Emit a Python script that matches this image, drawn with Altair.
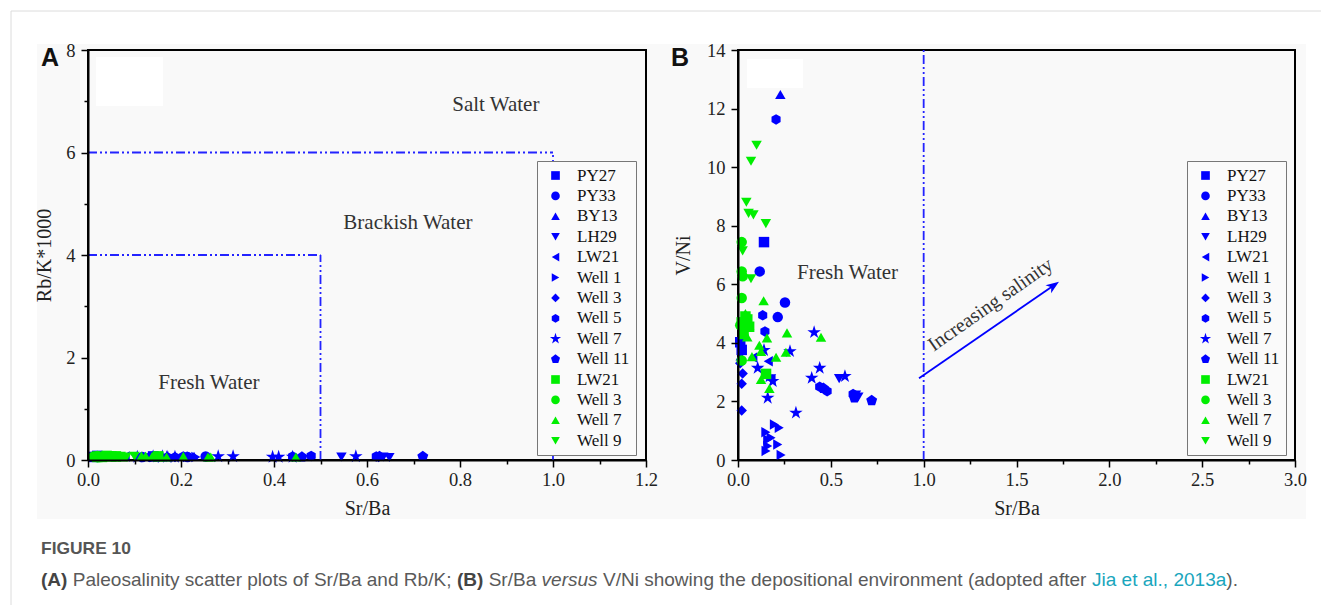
import altair as alt
import pandas as pd

BLUE = "#0000ff"
GREEN = "#00ee00"
LINE_BLUE = "#2323ff"
SERIF = "Liberation Serif"
SANS = "Liberation Sans"

STAR = ("M0,-1.35L0.303,-0.417L1.284,-0.417L0.490,0.159L0.794,1.092L0,0.516L-0.794,1.092"
        "L-0.490,0.159L-1.284,-0.417L-0.303,-0.417Z")
PENTAGON = "M0,-1.1L1.046,-0.34L0.647,0.89L-0.647,0.89L-1.046,-0.34Z"
HEXAGON = "M0,-1L0.866,-0.5L0.866,0.5L0,1L-0.866,0.5L-0.866,-0.5Z"
ARROW_HEAD = "M1,0L-1,-0.75L-0.45,0L-1,0.75Z"

# series: key, colour, symbol
series_keys = ["b:PY27", "b:PY33", "b:BY13", "b:LH29", "b:LW21", "b:Well 1", "b:Well 3",
               "b:Well 5", "b:Well 7", "b:Well 11", "g:LW21", "g:Well 3", "g:Well 7", "g:Well 9"]
series_colors = [BLUE] * 10 + [GREEN] * 4
series_shapes = ["square", "circle", "triangle-up", "triangle-down", "triangle-left", "triangle-right",
                 "diamond", HEXAGON, STAR, PENTAGON, "square", "circle", "triangle-up", "triangle-down"]

# Sr/Ba per sample
sr_ba = {
    "b:PY27": [0.140, 0.012, 0.020],
    "b:PY33": [0.117, 0.253, 0.214],
    "b:BY13": [0.228, 0.015],
    "b:LH29": [0.545, 0.635, 0.648],
    "b:LW21": [0.163, 0.178, 0.080],
    "b:Well 1": [0.196, 0.222, 0.214, 0.160, 0.160, 0.151, 0.232, 0.178, 0.150],
    "b:Well 3": [0.020, 0.020, 0.025, 0.012, 0.625],
    "b:Well 5": [0.205, 0.133, 0.145, 0.480, 0.440, 0.620],
    "b:Well 7": [0.410, 0.280, 0.106, 0.160, 0.187, 0.312, 0.397, 0.440, 0.576, 0.170, 0.140],
    "b:Well 11": [0.720, 0.460, 0.627],
    "g:LW21": [0.151, 0.020, 0.040, 0.060, 0.030, 0.050],
    "g:Well 3": [0.020, 0.020, 0.025, 0.020, 0.020, 0.012],
    "g:Well 7": [0.138, 0.264, 0.156, 0.447, 0.115, 0.124, 0.258, 0.205, 0.075, 0.124, 0.169,
                 0.040, 0.050, 0.030, 0.060],
    "g:Well 9": [0.100, 0.070, 0.045, 0.057, 0.083, 0.150, 0.025, 0.070],
}

# V/Ni per sample
v_ni = {
    "b:PY27": [7.44, 4.02, 3.76],
    "b:PY33": [6.44, 5.38, 4.88],
    "b:BY13": [12.48, 3.55],
    "b:LH29": [2.78, 2.22, 2.15],
    "b:LW21": [3.37, 2.75, 3.50],
    "b:Well 1": [1.21, 1.10, 0.53, 0.70, 0.48, 0.31, 0.17, 0.76, 0.95],
    "b:Well 3": [1.69, 2.60, 2.95, 3.30, 2.18],
    "b:Well 5": [11.63, 4.94, 4.39, 2.35, 2.50, 2.25],
    "b:Well 7": [4.36, 3.71, 3.14, 2.12, 2.69, 1.61, 2.80, 3.14, 2.86, 2.85, 3.75],
    "b:Well 11": [2.03, 2.45, 2.12],
    "g:LW21": [2.94, 4.70, 4.90, 4.55, 4.30, 4.80],
    "g:Well 3": [7.44, 6.44, 6.27, 5.53, 3.40, 4.60],
    "g:Well 7": [5.44, 4.34, 4.17, 4.19, 3.92, 3.71, 3.68, 3.51, 3.53, 2.75, 2.44,
                 5.00, 4.20, 4.40, 4.60],
    "g:Well 9": [10.75, 10.20, 8.80, 8.42, 8.37, 8.07, 7.14, 6.19],
}

# Rb/K*1000 per sample
rb_k = {
    "b:PY27": [0.07, 0.06, 0.08],
    "b:PY33": [0.06, 0.07, 0.06],
    "b:BY13": [0.07, 0.06],
    "b:LH29": [0.06, 0.06, 0.05],
    "b:LW21": [0.07, 0.06, 0.07],
    "b:Well 1": [0.06, 0.07, 0.06, 0.05, 0.07, 0.06, 0.06, 0.07, 0.06],
    "b:Well 3": [0.06, 0.07, 0.06, 0.07, 0.06],
    "b:Well 5": [0.07, 0.06, 0.07, 0.08, 0.07, 0.07],
    "b:Well 7": [0.06, 0.07, 0.06, 0.07, 0.06, 0.07, 0.06, 0.06, 0.07, 0.06, 0.07],
    "b:Well 11": [0.07, 0.06, 0.07],
    "g:LW21": [0.07, 0.06, 0.08, 0.07, 0.06, 0.07],
    "g:Well 3": [0.06, 0.07, 0.06, 0.08, 0.06, 0.07],
    "g:Well 7": [0.07, 0.06, 0.07, 0.06, 0.08, 0.07, 0.06, 0.07, 0.06, 0.07, 0.06,
                 0.08, 0.07, 0.06, 0.07],
    "g:Well 9": [0.07, 0.06, 0.08, 0.07, 0.06, 0.07, 0.06, 0.07],
}

# salinity boundaries (x0, y0, x1, y1)
bounds_a = [(0.0, 6.0, 1.0, 6.0), (1.0, 0.0, 1.0, 6.0), (0.0, 4.0, 0.5, 4.0), (0.5, 0.0, 0.5, 4.0)]
bounds_b = [(1.0, 0.0, 1.0, 14.0)]
arrow_b = (0.975, 2.79, 1.70, 5.96)

labels_a = [("Salt Water", 0.877, 6.93), ("Brackish Water", 0.688, 4.62), ("Fresh Water", 0.26, 1.50)]
labels_b = [("Fresh Water", 0.59, 6.37)]

ticks_ax = [round(0.1 * i, 1) for i in range(13)]
ticks_ay = list(range(9))
ticks_bx = [0.25 * i for i in range(13)]
ticks_by = list(range(15))

# caption runs: text, style (runs are separated by one space)
caption_title = "FIGURE 10"
caption_parts = [
    ("(A)", "bold", True),
    ("Paleosalinity scatter plots of Sr/Ba and Rb/K;", "normal", True),
    ("(B)", "bold", True),
    ("Sr/Ba", "normal", True),
    ("versus", "italic", True),
    ("V/Ni showing the depositional environment (adopted after", "normal", True),
    ("Jia et al., 2013a", "link", False),
    (").", "normal", False),
]

rows = []
for k in series_keys:
    for s, v, r in zip(sr_ba[k], v_ni[k], rb_k[k]):
        rows.append({"key": k, "sr": s, "vni": v, "rbk": r})
df = pd.DataFrame(rows)

W_A, W_B, H = 558, 557, 410
ONE = alt.Data(values=[{}])

# Arial/Liberation Sans advance widths (1/1000 em) used to lay out the caption runs
_W = {" ": 278, "(": 333, ")": 333, ",": 278, ".": 278, "/": 278, ";": 278, "*": 389}
_W.update({d: 556 for d in "0123456789"})
_W.update({"A": 667, "B": 667, "E": 667, "F": 611, "G": 778, "I": 278, "J": 500, "K": 667,
           "N": 722, "P": 667, "R": 722, "S": 667, "U": 722, "V": 667, "W": 944})
_W.update({"a": 556, "b": 556, "c": 500, "d": 556, "e": 556, "f": 278, "g": 556, "h": 556,
           "i": 222, "j": 222, "k": 500, "l": 222, "m": 833, "n": 556, "o": 556, "p": 556,
           "q": 556, "r": 333, "s": 500, "t": 278, "u": 556, "v": 500, "w": 722, "x": 500,
           "y": 500, "z": 500})
_WB = dict(_W)
_WB.update({"A": 722, "B": 722, "(": 333, ")": 333})


def text_em(s, bold=False):
    table = _WB if bold else _W
    return sum(table.get(c, 556) for c in s) / 1000.0


def legend_cfg():
    return alt.Legend(
        title=None, orient="none", legendX=449, legendY=111, direction="vertical",
        labelExpr="slice(datum.label, 2)", labelFont=SERIF, labelFontSize=17, labelColor="#111",
        symbolSize=75, symbolStrokeWidth=0, rowPadding=2.4, padding=6, labelOffset=13,
        symbolOffset=4, strokeColor="#777", fillColor="#fafafa", cornerRadius=0,
    )


def axis(values, major, fmt, title, orient, tpad, lpad):
    return alt.Axis(
        values=values, format=fmt, title=title, orient=orient, zindex=1,
        labelExpr=f"({major}) ? datum.label : ''",
        tickSize={"condition": {"test": major, "value": 7}, "value": 4},
        labelOverlap=False, labelFlush=False, labelPadding=lpad, titlePadding=tpad,
        domainColor="#000", domainWidth=2, tickColor="#000", tickWidth=1.5, grid=False,
        labelFont=SERIF, labelFontSize=18.5, labelColor="#222",
        titleFont=SERIF, titleFontSize=20, titleFontWeight="normal", titleColor="#222",
    )


def fixed_text(text, x, y, **kw):
    return alt.Chart(ONE).mark_text(text=text, align="left", baseline="middle", **kw).encode(
        x=alt.value(x), y=alt.value(y))


def panel(width, xdom, ydom, xfield, yfield, xaxis, yaxis, bounds, labels, letter, letter_x,
          white_box, extra=None, page=None):
    xs = alt.Scale(domain=xdom, nice=False, zero=False)
    ys = alt.Scale(domain=ydom, nice=False, zero=False)
    layers = []
    if page is not None:
        layers += page
    layers.append(
        alt.Chart(ONE).mark_rect(fill="#ffffff").encode(
            x=alt.value(white_box[0]), x2=alt.value(white_box[1]),
            y=alt.value(white_box[2]), y2=alt.value(white_box[3])))
    layers.append(
        alt.Chart(ONE).mark_rect(fill=None, stroke="#000", strokeWidth=2).encode(
            x=alt.value(0), x2=alt.value(width), y=alt.value(0), y2=alt.value(H)))
    bdf = pd.DataFrame(bounds, columns=["x0", "y0", "x1", "y1"])
    layers.append(
        alt.Chart(bdf).mark_rule(color=LINE_BLUE, strokeWidth=1.8, strokeDash=[9, 3, 2, 3, 2, 3]).encode(
            x=alt.X("x0:Q", scale=xs, axis=xaxis), x2="x1:Q",
            y=alt.Y("y0:Q", scale=ys, axis=yaxis), y2="y1:Q"))
    if extra is not None:
        layers += extra(xs, ys)
    lg = legend_cfg()
    layers.append(
        alt.Chart(df).mark_point(filled=True, opacity=1, size=110, strokeWidth=0).encode(
            x=alt.X(f"{xfield}:Q", scale=xs),
            y=alt.Y(f"{yfield}:Q", scale=ys),
            color=alt.Color("key:N", scale=alt.Scale(domain=series_keys, range=series_colors), legend=lg),
            shape=alt.Shape("key:N", scale=alt.Scale(domain=series_keys, range=series_shapes), legend=lg),
        ))
    ldf = pd.DataFrame(labels, columns=["t", "x", "y"])
    layers.append(
        alt.Chart(ldf).mark_text(font=SERIF, fontSize=21, color="#333").encode(
            x=alt.X("x:Q", scale=xs), y=alt.Y("y:Q", scale=ys), text="t:N"))
    layers.append(fixed_text(letter, letter_x, 8, font=SANS, fontSize=25,
                             fontWeight="bold", color="#111"))
    return alt.layer(*layers).resolve_scale(color="independent", shape="independent").properties(
        width=width, height=H)


# page furniture, placed relative to the first panel's plot corner
cap_left, cap_right = -47, 1150
cap_y1, cap_y2 = 499, 530
cap_em = sum(text_em(t, s == "bold") + (text_em(" ") if gap else 0) for t, s, gap in caption_parts)
cap_size = (cap_right - cap_left) / cap_em
title_size = 90 / text_em(caption_title, True)

page_layers = [
    alt.Chart(ONE).mark_rect(fill="#f9f9f9").encode(
        x=alt.value(-51), x2=alt.value(1218), y=alt.value(-6), y2=alt.value(469)),
    alt.Chart(ONE).mark_rule(color="#dcdcdc", strokeWidth=1).encode(
        x=alt.value(-77), x2=alt.value(1233), y=alt.value(-39)),
    alt.Chart(ONE).mark_rule(color="#dcdcdc", strokeWidth=1).encode(
        x=alt.value(-77), y=alt.value(-39), y2=alt.value(555)),
    fixed_text(caption_title, cap_left, cap_y1, font=SANS, fontSize=title_size, fontWeight="bold",
               color="#555"),
]
cx = cap_left
for txt, style, gap in caption_parts:
    kw = {"font": SANS, "fontSize": cap_size, "color": "#5a5a5a"}
    if style == "bold":
        kw.update(fontWeight="bold", color="#444")
    elif style == "italic":
        kw.update(fontStyle="italic")
    elif style == "link":
        kw.update(color="#1aa6bd")
    page_layers.append(fixed_text(txt, cx, cap_y2, **kw))
    cx += (text_em(txt, style == "bold") + (text_em(" ") if gap else 0)) * cap_size


def arrow_layers(xs, ys):
    adf = pd.DataFrame([{"x0": arrow_b[0], "y0": arrow_b[1], "x1": arrow_b[2], "y1": arrow_b[3]}])
    return [
        alt.Chart(adf).mark_rule(color=BLUE, strokeWidth=1.8).encode(
            x=alt.X("x0:Q", scale=xs), y=alt.Y("y0:Q", scale=ys), x2="x1:Q", y2="y1:Q"),
        alt.Chart(adf).mark_point(shape=ARROW_HEAD, filled=True, color=BLUE, size=170, angle=325,
                                  opacity=1).encode(
            x=alt.X("x1:Q", scale=xs), y=alt.Y("y1:Q", scale=ys)),
        alt.Chart(pd.DataFrame([{"t": "Increasing salinity", "x": 1.36, "y": 5.30}])).mark_text(
            font=SERIF, fontSize=20, color="#333", angle=325).encode(
            x=alt.X("x:Q", scale=xs), y=alt.Y("y:Q", scale=ys), text="t:N"),
    ]


major_ax = "abs(datum.value*5 - round(datum.value*5)) < 0.001"
major_ay = "datum.value % 2 == 0"
major_bx = "abs(datum.value*2 - round(datum.value*2)) < 0.001"

panel_a = panel(
    W_A, [0, 1.2], [0, 8], "sr", "rbk",
    axis(ticks_ax, major_ax, ".1f", "Sr/Ba", "bottom", 10, 3),
    axis(ticks_ay, major_ay, "d", "Rb/K*1000", "left", 11, 6),
    bounds_a, labels_a, "A", -47, (8, 75, 7, 56), page=page_layers)

panel_b = panel(
    W_B, [0, 3.0], [0, 14], "sr", "vni",
    axis(ticks_bx, major_bx, ".1f", "Sr/Ba", "bottom", 10, 3),
    axis(ticks_by, major_ay, "d", "V/Ni", "left", 13, 6),
    bounds_b, labels_b, "B", -67, (9, 65, 9, 38), extra=arrow_layers)

chart = alt.hconcat(panel_a, panel_b, spacing=92, bounds="flush").resolve_scale(
    color="independent", shape="independent", x="independent", y="independent"
).resolve_legend(color="independent", shape="independent").properties(
    padding={"left": 10, "top": 10, "right": 0, "bottom": 0},
    background="#ffffff",
).configure_view(stroke=None)

chart.save("out.html", embed_options={"renderer": "svg", "actions": False})
